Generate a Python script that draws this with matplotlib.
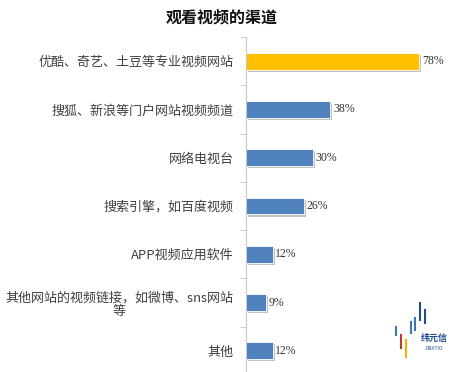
import matplotlib
matplotlib.use("Agg")
import matplotlib.pyplot as plt
import matplotlib.patheffects as pe

plt.rcParams['font.family'] = ['Noto Sans CJK SC', 'DejaVu Sans']

categories = ["优酷、奇艺、土豆等专业视频网站", "搜狐、新浪等门户网站视频频道", "网络电视台",
              "搜索引擎，如百度视频", "APP视频应用软件", "其他网站的视频链接，如微博、sns网站\n等", "其他"]
values = [78, 38, 30, 26, 12, 9, 12]
colors = ["#FFC000"] + ["#4F81BD"] * 6

fig = plt.figure(figsize=(4.58, 3.72), dpi=100)
ax = fig.add_axes([246/458, -3/372, 212/458, (372-37+3)/372])
ypos = list(range(len(categories)))
bars = ax.barh(ypos, values, height=0.35, color=colors, edgecolor="white", linewidth=0.6,
               path_effects=[pe.SimplePatchShadow(offset=(1.5, -1.5), shadow_rgbFace="#999999", alpha=0.6), pe.Normal()])
ax.set_ylim(len(categories) - 0.5, -0.5)
ax.set_xlim(0, 95.5)
for y, v in zip(ypos, values):
    ax.text(v + 1.2, y, f"{v}%", va="center", ha="left", fontsize=8.5, color="#333333", family=["Liberation Serif"])
ax.set_yticks(ypos)
ax.set_yticklabels(categories, fontsize=9.4, color="#404040", multialignment="center", linespacing=1.1)
ax.set_yticks([i + 0.5 for i in range(-1, len(categories))], minor=True)
ax.tick_params(axis="y", which="major", length=0, pad=9)
ax.tick_params(axis="y", which="minor", length=4, color="#C8C8C8", direction="out")
ax.set_xticks([])
for s in ["top", "right", "bottom"]:
    ax.spines[s].set_visible(False)
ax.spines["left"].set_color("#C8C8C8")
ax.spines["left"].set_linewidth(0.8)

fig.text(222/458, 1 - 17/372, "观看视频的渠道", ha="center", va="center", fontsize=11.5, fontweight="bold", color="#111111")

# small logo
lx = [396, 401, 406, 411, 415, 420, 425]
lh = [(327, 335), (335, 348), (340, 357), (322, 333), (318, 330), (303, 320), (310, 323)]
lc = ["#3C78B4", "#C0392B", "#F0B400", "#3C78B4", "#3C78B4", "#1F4E8C", "#1F4E8C"]
for x, (y0, y1), c in zip(lx, lh, lc):
    fig.add_artist(plt.Line2D([x/458, x/458], [1 - y0/372, 1 - y1/372], color=c, linewidth=1.5))
fig.text(434/458, 1 - 338/372, "纬元信", ha="center", va="center", fontsize=6.5, fontweight="bold", color="#1F4E8C")
fig.text(434/458, 1 - 348/372, "DRATIO", ha="center", va="center", fontsize=3.5, color="#1F4E8C")

fig.savefig("out.png", dpi=100)
